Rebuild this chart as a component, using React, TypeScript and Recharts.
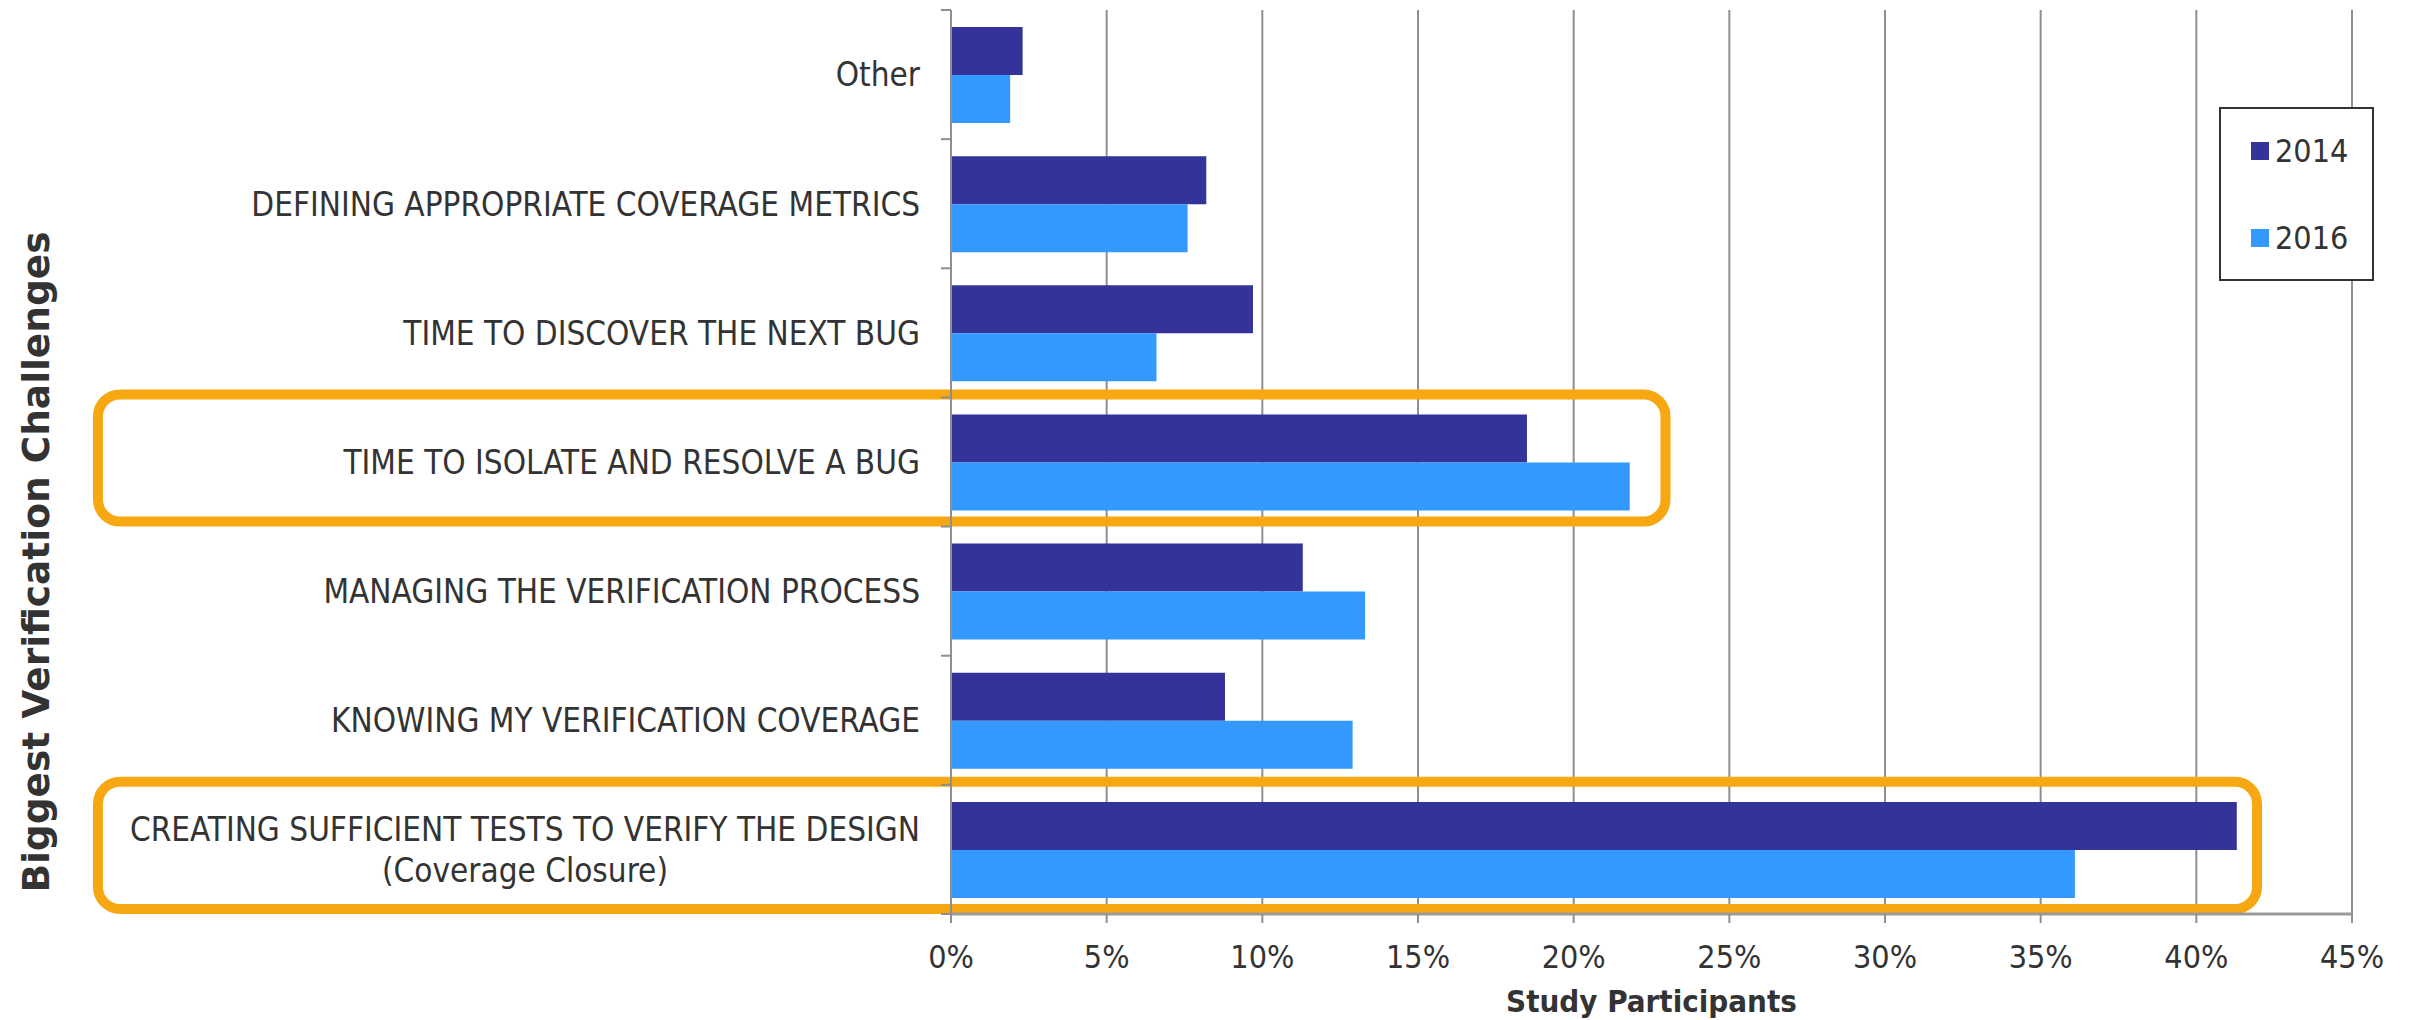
import React from 'react';
import { BarChart, Bar, XAxis, YAxis, CartesianGrid, Legend, ReferenceArea } from 'recharts';

// ---------- data ----------
const categories = [
  'Other',
  'DEFINING APPROPRIATE COVERAGE METRICS',
  'TIME TO DISCOVER THE NEXT BUG',
  'TIME TO ISOLATE AND RESOLVE A BUG',
  'MANAGING THE VERIFICATION PROCESS',
  'KNOWING MY VERIFICATION COVERAGE',
  'CREATING SUFFICIENT TESTS TO VERIFY THE DESIGN',
];
const subLines = ['', '', '', '', '', '', '(Coverage Closure)'];
const values2014 = [2.3, 8.2, 9.7, 18.5, 11.3, 8.8, 41.3];
const values2016 = [1.9, 7.6, 6.6, 21.8, 13.3, 12.9, 36.1];
const seriesNames = ['2014', '2016'];
const xTicks = [0, 5, 10, 15, 20, 25, 30, 35, 40, 45];
const highlightCategories = [categories[3], categories[6]];
const highlightFrom = [-27.4, -27.4];
const highlightTo = [22.95, 41.95];

const data = categories.map((c, i) => ({
  category: c,
  v2014: values2014[i],
  v2016: values2016[i],
}));

// ---------- layout / style ----------
const W = 2401;
const H = 1012;
const M = { top: 2, right: 57, bottom: 0, left: 0 };
const Y_AXIS_W = 943;
const X_AXIS_H = 106;
const PLOT_H = H - M.top - M.bottom - X_AXIS_H;
const PLOT_W = W - M.left - M.right - Y_AXIS_W;
const BAND = PLOT_H / categories.length;
const AXIS_X = M.left + Y_AXIS_W;
const Y_TICK_MARGIN = 31;

const FONT = "'DejaVu Sans Condensed', 'DejaVu Sans', sans-serif";
const BOLD_FONT = "'DejaVu Sans', sans-serif";
const TEXT = '#333333';
const GRID = '#8f8f8f';
const C2014 = '#333399';
const C2016 = '#3399FF';
const ORANGE = '#F7A711';
const CAT_FONT_SIZE = 33;

let measureCtx: CanvasRenderingContext2D | null = null;
function measure(text: string, font: string): number {
  if (!measureCtx) {
    const c = document.createElement('canvas');
    measureCtx = c.getContext('2d');
  }
  if (!measureCtx) return text.length * 17;
  measureCtx.font = font;
  return measureCtx.measureText(text).width;
}

const CategoryTick = (props: any) => {
  const { x, y, payload } = props;
  const idx = categories.indexOf(payload.value);
  const top = y - BAND / 2;
  const bottom = y + BAND / 2;
  const axisX = x + Y_TICK_MARGIN;
  const sub = idx >= 0 ? subLines[idx] : '';
  const fontSize = CAT_FONT_SIZE;
  let label;
  if (sub) {
    const w = measure(payload.value, `${fontSize}px 'DejaVu Sans Condensed', 'DejaVu Sans'`);
    label = (
      <g>
        <text x={x} y={y - 20.5} dy="0.36em" textAnchor="end" fontSize={fontSize} fontFamily={FONT} fill={TEXT}>
          {payload.value}
        </text>
        <text x={x - w / 2} y={y + 20.5} dy="0.36em" textAnchor="middle" fontSize={fontSize} fontFamily={FONT} fill={TEXT}>
          {sub}
        </text>
      </g>
    );
  } else {
    label = (
      <text x={x} y={y} dy="0.36em" textAnchor="end" fontSize={fontSize} fontFamily={FONT} fill={TEXT}>
        {payload.value}
      </text>
    );
  }
  return (
    <g>
      <line x1={axisX - 10} x2={axisX} y1={top} y2={top} stroke={GRID} strokeWidth={2} />
      {idx === categories.length - 1 ? (
        <line x1={axisX - 10} x2={axisX} y1={bottom} y2={bottom} stroke={GRID} strokeWidth={2} />
      ) : null}
      {label}
    </g>
  );
};

const YTitle = () => {
  const cx = 28;
  const cy = 554;
  return (
    <text
      x={cx}
      y={cy}
      transform={`rotate(-90, ${cx}, ${cy})`}
      textAnchor="middle"
      dominantBaseline="central"
      fontSize={37.5}
      fontWeight="bold"
      fontFamily={BOLD_FONT}
      fill={TEXT}
    >
      Biggest Verification Challenges
    </text>
  );
};

const XTitle = () => (
  <text
    x={AXIS_X + PLOT_W / 2}
    y={1004}
    textAnchor="middle"
    fontSize={31}
    fontWeight="bold"
    fontFamily={FONT}
    fill={TEXT}
  >
    Study Participants
  </text>
);

const LegendBox = (props: any) => {
  const payload = props.payload && props.payload.length ? props.payload : seriesNames.map((n, i) => ({ value: n, color: i === 0 ? C2014 : C2016 }));
  return (
    <div
      style={{
        width: 155,
        height: 174,
        boxSizing: 'border-box',
        border: '2px solid #333',
        background: '#fff',
        position: 'relative',
      }}
    >
      {payload.map((p: any, i: number) => (
        <div
          key={p.value}
          style={{
            position: 'absolute',
            left: 30,
            top: (i === 0 ? 42 : 129) - 20,
            height: 40,
            display: 'flex',
            alignItems: 'center',
          }}
        >
          <div style={{ width: 18, height: 18, background: p.color }} />
          <span
            style={{
              marginLeft: 6,
              fontFamily: FONT,
              fontSize: 32,
              color: TEXT,
              lineHeight: '40px',
            }}
          >
            {p.value}
          </span>
        </div>
      ))}
    </div>
  );
};

const Highlight = (props: any) => {
  const { x, y, width, height } = props;
  if (x == null || y == null) return null;
  return (
    <rect
      x={x}
      y={y - 3}
      width={width}
      height={height - 2}
      rx={22}
      ry={22}
      fill="none"
      stroke={ORANGE}
      strokeWidth={10}
    />
  );
};

export default function App() {
  return (
    <div style={{ width: W, height: H, position: 'relative', background: '#fff' }}>
      <BarChart
        width={W}
        height={H}
        data={data}
        layout="vertical"
        margin={M}
        barCategoryGap="13.2%"
        barGap={0}
      >
        <CartesianGrid horizontal={false} vertical={true} stroke={GRID} strokeWidth={2} />
        <XAxis
          type="number"
          domain={[0, 45]}
          ticks={xTicks}
          interval={0}
          allowDataOverflow
          height={X_AXIS_H}
          tickFormatter={(v: number) => `${v}%`}
          tick={{ fontSize: 32, fontFamily: FONT, fill: TEXT }}
          tickSize={9}
          tickMargin={22}
          tickLine={{ stroke: GRID, strokeWidth: 2 }}
          axisLine={{ stroke: '#9a9a9a', strokeWidth: 3 }}
          label={<XTitle />}
        />
        <YAxis
          type="category"
          dataKey="category"
          width={Y_AXIS_W}
          tick={<CategoryTick />}
          tickLine={false}
          tickSize={0}
          tickMargin={Y_TICK_MARGIN}
          interval={0}
          axisLine={{ stroke: GRID, strokeWidth: 2 }}
          label={<YTitle />}
        />
        <Bar dataKey="v2014" name={seriesNames[0]} fill={C2014} isAnimationActive={false} />
        <Bar dataKey="v2016" name={seriesNames[1]} fill={C2016} isAnimationActive={false} />
        {highlightCategories.map((c, i) => (
          <ReferenceArea
            key={c}
            y1={c}
            y2={c}
            x1={highlightFrom[i]}
            x2={highlightTo[i]}
            ifOverflow="visible"
            shape={<Highlight />}
          />
        ))}
        <Legend
          layout="horizontal"
          verticalAlign="middle"
          align="center"
          content={<LegendBox />}
          wrapperStyle={{ position: 'absolute', left: 2211, top: 99, width: 155, height: 174 }}
        />
      </BarChart>
    </div>
  );
}
